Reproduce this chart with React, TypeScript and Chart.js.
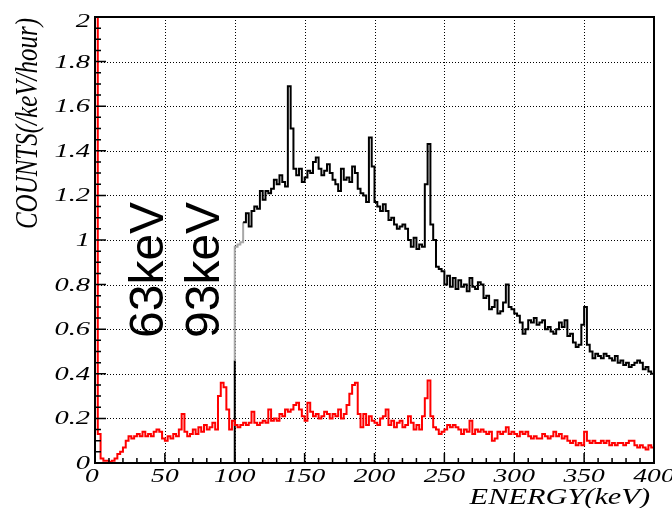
import React, { useEffect, useRef } from "react";
import { Chart, registerables } from "chart.js";

Chart.register(...registerables);

// ---- data ----
const binWidth = 2; // keV
const redStart = 0;
const blackStart = 100;

// background spectrum (red), 2 keV bins from 0 to 400 keV (first bin is off-scale)
const redValues = [
  2.0, 0.13, 0.02, 0.01, 0.01, 0.005, 0.01, 0.02, 0.04, 0.05,
  0.07, 0.10, 0.12, 0.11, 0.12, 0.13, 0.12, 0.14, 0.12, 0.13,
  0.12, 0.14, 0.15, 0.14, 0.11, 0.10, 0.12, 0.11, 0.13, 0.12,
  0.15, 0.22, 0.14, 0.12, 0.13, 0.15, 0.13, 0.16, 0.14, 0.17,
  0.15, 0.16, 0.18, 0.15, 0.30, 0.36, 0.34, 0.24, 0.15, 0.19,
  0.17, 0.16, 0.17, 0.18, 0.17, 0.18, 0.23, 0.18, 0.17, 0.18,
  0.19, 0.18, 0.24, 0.19, 0.20, 0.19, 0.22, 0.21, 0.24, 0.23,
  0.24, 0.26, 0.27, 0.24, 0.21, 0.19, 0.27, 0.23, 0.21, 0.22,
  0.20, 0.21, 0.23, 0.22, 0.20, 0.22, 0.21, 0.24, 0.20, 0.22,
  0.26, 0.31, 0.35, 0.36, 0.22, 0.16, 0.22, 0.17, 0.21, 0.19,
  0.18, 0.17, 0.20, 0.21, 0.24, 0.17, 0.19, 0.16, 0.18, 0.19,
  0.16, 0.17, 0.21, 0.18, 0.15, 0.17, 0.15, 0.21, 0.29, 0.37,
  0.21, 0.16, 0.15, 0.13, 0.14, 0.15, 0.17, 0.16, 0.17, 0.16,
  0.15, 0.13, 0.15, 0.14, 0.19, 0.13, 0.15, 0.14, 0.15, 0.14,
  0.13, 0.14, 0.10, 0.11, 0.14, 0.13, 0.14, 0.16, 0.13, 0.14,
  0.13, 0.12, 0.14, 0.13, 0.14, 0.12, 0.11, 0.12, 0.11, 0.11,
  0.13, 0.12, 0.11, 0.12, 0.14, 0.12, 0.13, 0.11, 0.12, 0.10,
  0.09, 0.10, 0.08, 0.09, 0.08, 0.14, 0.10, 0.09, 0.10, 0.09,
  0.09, 0.10, 0.09, 0.10, 0.08, 0.09, 0.08, 0.09, 0.09, 0.08,
  0.09, 0.10, 0.10, 0.08, 0.07, 0.08, 0.07, 0.06, 0.08, 0.07,
];

// onset of the sample spectrum at 100 keV (vertical edge)
const blackOnset = [0, 0.46];
// sample spectrum (black), 2 keV bins from 100 to 400 keV
const blackValues = [
  0.97, 0.98, 0.99, 1.08, 1.12, 1.06, 1.13, 1.15, 1.14, 1.22,
  1.18, 1.22, 1.21, 1.23, 1.27, 1.25, 1.29, 1.26, 1.24, 1.69,
  1.50, 1.32, 1.29, 1.32, 1.26, 1.28, 1.31, 1.30, 1.35, 1.37,
  1.32, 1.29, 1.31, 1.34, 1.30, 1.27, 1.25, 1.22, 1.32, 1.27,
  1.28, 1.26, 1.33, 1.30, 1.23, 1.21, 1.20, 1.17, 1.46, 1.33,
  1.17, 1.15, 1.13, 1.16, 1.13, 1.09, 1.10, 1.07, 1.05, 1.06,
  1.07, 1.05, 1.00, 0.97, 1.01, 0.96, 0.98, 0.97, 1.25, 1.43,
  1.07, 1.00, 0.88, 0.87, 0.86, 0.80, 0.84, 0.79, 0.83, 0.78,
  0.82, 0.79, 0.80, 0.77, 0.83, 0.79, 0.78, 0.81, 0.80, 0.74,
  0.75, 0.69, 0.70, 0.73, 0.67, 0.68, 0.72, 0.80, 0.70, 0.69,
  0.67, 0.66, 0.63, 0.58, 0.60, 0.64, 0.63, 0.65, 0.62, 0.63,
  0.64, 0.60, 0.61, 0.59, 0.58, 0.60, 0.63, 0.61, 0.64, 0.57,
  0.58, 0.54, 0.52, 0.53, 0.62, 0.70, 0.53, 0.50, 0.47, 0.49,
  0.48, 0.47, 0.49, 0.48, 0.47, 0.46, 0.48, 0.45, 0.46, 0.44,
  0.45, 0.43, 0.44, 0.45, 0.46, 0.45, 0.42, 0.43, 0.41, 0.40,
];
const grayUntil = 106; // first bins drawn faint

const xMin = 0;
const xMax = 400;
const yMin = 0;
const yMax = 2;
const xTickValues = [0, 50, 100, 150, 200, 250, 300, 350, 400];
const xTickLabels = ["0", "50", "100", "150", "200", "250", "300", "350", "400"];
const yTickValues = [0, 0.2, 0.4, 0.6, 0.8, 1, 1.2, 1.4, 1.6, 1.8, 2];
const yTickLabels = ["0", "0.2", "0.4", "0.6", "0.8", "1", "1.2", "1.4", "1.6", "1.8", "2"];
const xMinorStep = 10;
const yMinorStep = 0.05;
const xTitle = "ENERGY(keV)";
const yTitle = "COUNTS(/keV/hour)";
const peakLabels = ["63keV", "93keV"];

function drawStretched(
  ctx: CanvasRenderingContext2D,
  text: string,
  x: number,
  y: number,
  font: string,
  sx: number,
  align: CanvasTextAlign,
  baseline: CanvasTextBaseline
) {
  ctx.save();
  ctx.translate(x, y);
  ctx.scale(sx, 1);
  ctx.font = font;
  ctx.textAlign = align;
  ctx.textBaseline = baseline;
  ctx.fillStyle = "#000";
  ctx.fillText(text, 0, 0);
  ctx.restore();
}

const rootStyle = {
  id: "rootStyle",
  beforeDatasetsDraw(chart: any) {
    const { ctx, chartArea: a, scales } = chart;
    const x = scales.x;
    const y = scales.y;
    ctx.save();
    ctx.strokeStyle = "#000";
    ctx.lineWidth = 1;
    ctx.setLineDash([1, 2]);
    ctx.beginPath();
    xTickValues.forEach((v) => {
      if (v === xMin || v === xMax) return;
      const px = Math.round(x.getPixelForValue(v)) + 0.5;
      ctx.moveTo(px, a.top);
      ctx.lineTo(px, a.bottom);
    });
    yTickValues.forEach((v) => {
      if (v === yMin || v === yMax) return;
      const py = Math.round(y.getPixelForValue(v)) + 0.5;
      ctx.moveTo(a.left, py);
      ctx.lineTo(a.right, py);
    });
    ctx.stroke();
    ctx.restore();
  },
  afterDatasetsDraw(chart: any) {
    const { ctx, chartArea: a, scales } = chart;
    const x = scales.x;
    const y = scales.y;
    ctx.save();
    // frame
    ctx.strokeStyle = "#000";
    ctx.lineWidth = 2;
    ctx.strokeRect(a.left, a.top, a.right - a.left, a.bottom - a.top);
    // inside ticks
    ctx.lineWidth = 1.5;
    ctx.beginPath();
    const nx = Math.round((xMax - xMin) / xMinorStep);
    for (let i = 0; i <= nx; i++) {
      const v = xMin + i * xMinorStep;
      const px = x.getPixelForValue(v);
      const len = i % 5 === 0 ? 10 : 5;
      ctx.moveTo(px, a.bottom);
      ctx.lineTo(px, a.bottom - len);
    }
    const ny = Math.round((yMax - yMin) / yMinorStep);
    for (let i = 0; i <= ny; i++) {
      const v = yMin + i * yMinorStep;
      const py = y.getPixelForValue(v);
      const len = i % 4 === 0 ? 11 : 6;
      ctx.moveTo(a.left, py);
      ctx.lineTo(a.left + len, py);
    }
    ctx.stroke();
    ctx.restore();

    const tickFont = 'italic 19px "Liberation Serif", "DejaVu Serif", serif';
    // x tick labels
    xTickValues.forEach((v, i) => {
      const px = x.getPixelForValue(v);
      drawStretched(ctx, xTickLabels[i], px - (v === 0 ? 3 : 0), a.bottom + 19, tickFont, 1.45, "center", "alphabetic");
    });
    // y tick labels
    yTickValues.forEach((v, i) => {
      const py = y.getPixelForValue(v);
      drawStretched(ctx, yTickLabels[i], a.left - 5, Math.max(py + 1, 22), tickFont, 1.5, "right", "middle");
    });
    // x title
    drawStretched(ctx, xTitle, 650, 504, 'italic 23px "Liberation Serif", "DejaVu Serif", serif', 1.32, "right", "alphabetic");
    // y title (rotated)
    ctx.save();
    ctx.translate(37, 18);
    ctx.rotate(-Math.PI / 2);
    ctx.scale(1, 1.25);
    ctx.font = 'italic 25px "Liberation Serif", "DejaVu Serif", serif';
    ctx.textAlign = "right";
    ctx.textBaseline = "alphabetic";
    ctx.fillStyle = "#000";
    ctx.fillText(yTitle, 0, 0);
    ctx.restore();
    // peak labels (rotated)
    const labelPos = [
      [163, 338],
      [219, 338],
    ];
    peakLabels.forEach((t, i) => {
      ctx.save();
      ctx.translate(labelPos[i][0], labelPos[i][1]);
      ctx.rotate(-Math.PI / 2);
      ctx.font = '48px "Liberation Sans", Arial, sans-serif';
      ctx.textAlign = "left";
      ctx.textBaseline = "alphabetic";
      ctx.fillStyle = "#000";
      ctx.fillText(t, 0, 0);
      ctx.restore();
    });
  },
};

export default function App() {
  const ref = useRef<HTMLCanvasElement | null>(null);

  useEffect(() => {
    if (!ref.current) return;
    const redPoints = redValues.map((v, i) => ({ x: redStart + i * binWidth, y: v }));
    redPoints.push({ x: xMax, y: redValues[redValues.length - 1] });

    const blackPoints = [
      ...blackOnset.map((v) => ({ x: blackStart, y: v })),
      ...blackValues.map((v, i) => ({ x: blackStart + i * binWidth, y: v })),
    ];
    blackPoints.push({ x: xMax, y: blackValues[blackValues.length - 1] });

    const chart = new Chart(ref.current, {
      type: "line",
      data: {
        datasets: [
          {
            label: "background",
            data: redPoints,
            borderColor: "#ff0000",
            borderWidth: 2,
            pointRadius: 0,
            stepped: "before",
            fill: false,
            borderJoinStyle: "miter",
            clip: 2,
          },
          {
            label: "sample",
            data: blackPoints,
            borderColor: "#000000",
            borderWidth: 2,
            pointRadius: 0,
            stepped: "before",
            fill: false,
            borderJoinStyle: "miter",
            clip: 2,
            segment: {
              borderColor: (c: any) =>
                c.p0DataIndex >= 1 && c.p0.parsed.x < grayUntil ? "#a8a8a8" : "#000000",
            },
          },
        ],
      } as any,
      options: {
        responsive: false,
        animation: false,
        devicePixelRatio: 1,
        layout: { padding: { left: 95, right: 18, top: 17, bottom: 45 } },
        plugins: { legend: { display: false }, tooltip: { enabled: false } },
        scales: {
          x: { type: "linear", min: xMin, max: xMax, display: false },
          y: { type: "linear", min: yMin, max: yMax, display: false },
        },
      } as any,
      plugins: [rootStyle],
    });
    return () => chart.destroy();
  }, []);

  return (
    <div style={{ position: "fixed", left: 0, top: 0, width: 672, height: 508, background: "#fff" }}>
      <canvas ref={ref} width={672} height={508} style={{ display: "block" }} />
    </div>
  );
}
